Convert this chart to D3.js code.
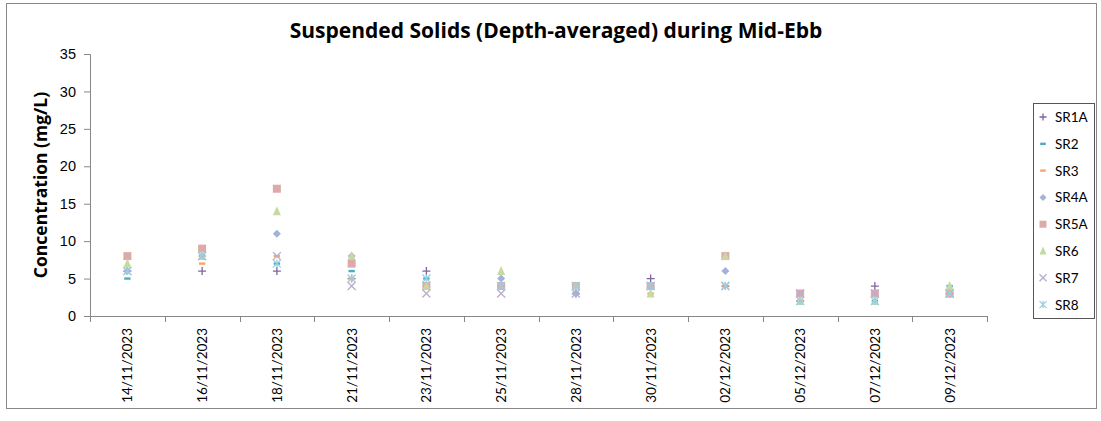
<!DOCTYPE html>
<html>
<head>
<meta charset="utf-8">
<script src="https://cdn.jsdelivr.net/npm/d3@7.9.0/dist/d3.min.js"></script>
<style>
  body { margin: 0; background: #fff; }
  svg { font-family: Lato, "Open Sans", sans-serif; }
</style>
</head>
<body>
<svg id="chart" width="1101" height="421"></svg>
<script>
// dates on the x axis
const dates = ['14/11/2023', '16/11/2023', '18/11/2023', '21/11/2023', '23/11/2023', '25/11/2023',
  '28/11/2023', '30/11/2023', '02/12/2023', '05/12/2023', '07/12/2023', '09/12/2023'];

// station names
const stations = ['SR1A', 'SR2', 'SR3', 'SR4A', 'SR5A', 'SR6', 'SR7', 'SR8'];

// concentration values (mg/L), one array per station
const sr1a = [6, 6, 6, 5, 6, 4, 3, 5, 4, 2, 4, 3];
const sr2  = [5, 8, 7, 6, 5, 4, 3, 4, 4, 2, 2, 4];
const sr3  = [6, 7, 8, 5, 4, 4, 4, 3, 4, 2, 3, 3];
const sr4a = [6, 8, 11, 8, 4, 5, 3, 4, 6, 3, 3, 3];
const sr5a = [8, 9, 17, 7, 4, 4, 4, 4, 8, 3, 3, 3];
const sr6  = [7, 8, 14, 8, 4, 6, 4, 3, 8, 2, 2, 4];
const sr7  = [6, 8, 8, 4, 3, 3, 3, 4, 4, 3, 3, 3];
const sr8  = [6, 8, 7, 5, 5, 4, 4, 4, 4, 2, 2, 3];

const yTicks = [0, 5, 10, 15, 20, 25, 30, 35];

const seriesValues = [sr1a, sr2, sr3, sr4a, sr5a, sr6, sr7, sr8];
const shapes = ['plus', 'dash', 'dash', 'diamond', 'square', 'triangle', 'cross', 'star'];
const colors = ['#8064A2', '#4BACC6', '#F9A56A', '#A3B2DA', '#DDAAAA', '#C6D9A0', '#B9ACCF', '#98D0E0'];

const svg = d3.select('#chart');

// outer border
svg.append('rect')
  .attr('x', 6.5).attr('y', 3.5).attr('width', 1090).attr('height', 405)
  .attr('fill', 'none').attr('stroke', '#888').attr('stroke-width', 1);

const x = d3.scaleBand().domain(dates).range([90, 987]).padding(0);
const y = d3.scaleLinear().domain([0, 35]).range([316, 54]);

// title
svg.append('text')
  .attr('x', 556).attr('y', 38)
  .attr('text-anchor', 'middle')
  .style('font-family', '"Open Sans", sans-serif')
  .style('font-size', '21px').style('font-weight', 'bold')
  .text('Suspended Solids (Depth-averaged) during Mid-Ebb');

// y axis
const yAxis = svg.append('g')
  .attr('transform', 'translate(90,0)')
  .call(d3.axisLeft(y).tickValues(yTicks).tickSize(6).tickPadding(8));
yAxis.select('.domain').attr('stroke', '#888');
yAxis.selectAll('.tick line').attr('stroke', '#888');
yAxis.selectAll('.tick text').style('font-size', '14.5px').attr('fill', '#000');

svg.append('text')
  .attr('transform', 'translate(47,185) rotate(-90)')
  .attr('text-anchor', 'middle')
  .style('font-family', '"Open Sans", sans-serif')
  .style('font-size', '17.5px').style('font-weight', 'bold')
  .text('Concentration (mg/L)');

// x axis line + boundary ticks
svg.append('line')
  .attr('x1', x.range()[0]).attr('x2', x.range()[1])
  .attr('y1', y(0) + 0.5).attr('y2', y(0) + 0.5)
  .attr('stroke', '#888');
d3.range(dates.length + 1).forEach(i => {
  const tx = Math.round(x.range()[0] + i * x.step()) + 0.5;
  svg.append('line')
    .attr('x1', tx).attr('x2', tx)
    .attr('y1', y(0)).attr('y2', y(0) + 6)
    .attr('stroke', '#888');
});

// x labels, rotated
svg.selectAll('.xlab')
  .data(dates)
  .join('text')
  .attr('class', 'xlab')
  .attr('transform', d => `translate(${x(d) + x.bandwidth() / 2 + 5},328) rotate(-90)`)
  .attr('text-anchor', 'end')
  .style('font-size', '13.5px')
  .text(d => d);

// marker drawing
function drawMarker(g, shape, color, cx, cy, s) {
  const h = s / 2;
  if (shape === 'square') {
    g.append('rect').attr('x', cx - h).attr('y', cy - h).attr('width', s).attr('height', s).attr('fill', color);
  } else if (shape === 'triangle') {
    g.append('path').attr('d', `M${cx},${cy - h - 1}L${cx + h},${cy + h}L${cx - h},${cy + h}Z`).attr('fill', color);
  } else if (shape === 'diamond') {
    g.append('path').attr('d', `M${cx},${cy - h}L${cx + h},${cy}L${cx},${cy + h}L${cx - h},${cy}Z`).attr('fill', color);
  } else if (shape === 'dash') {
    g.append('rect').attr('x', cx - h * 0.8).attr('y', cy - 1.2).attr('width', s * 0.8).attr('height', 2.4).attr('fill', color);
  } else if (shape === 'plus') {
    g.append('path').attr('d', `M${cx - h},${cy}H${cx + h}M${cx},${cy - h}V${cy + h}`)
      .attr('stroke', color).attr('stroke-width', 1.3).attr('fill', 'none');
  } else if (shape === 'cross') {
    g.append('path').attr('d', `M${cx - h},${cy - h}L${cx + h},${cy + h}M${cx + h},${cy - h}L${cx - h},${cy + h}`)
      .attr('stroke', color).attr('stroke-width', 1.3).attr('fill', 'none');
  } else if (shape === 'star') {
    g.append('path').attr('d', `M${cx - h},${cy - h}L${cx + h},${cy + h}M${cx + h},${cy - h}L${cx - h},${cy + h}M${cx},${cy - h}V${cy + h}`)
      .attr('stroke', color).attr('stroke-width', 1.3).attr('fill', 'none');
  }
}

const plot = svg.append('g');
stations.forEach((st, si) => {
  const g = plot.append('g').attr('class', 'series-' + st);
  seriesValues[si].forEach((v, i) => {
    drawMarker(g, shapes[si], colors[si], x(dates[i]) + x.bandwidth() / 2, y(v), 8);
  });
});

// legend
const legend = svg.append('g');
legend.append('rect')
  .attr('x', 1033.5).attr('y', 103.5).attr('width', 61).attr('height', 215)
  .attr('fill', '#fff').attr('stroke', '#555');
stations.forEach((st, si) => {
  const ly = 117 + si * 26.8;
  drawMarker(legend, shapes[si], colors[si], 1043, ly, 7);
  legend.append('text')
    .attr('x', 1055).attr('y', ly + 5)
    .style('font-size', '13.5px')
    .text(st);
});
</script>
</body>
</html>
